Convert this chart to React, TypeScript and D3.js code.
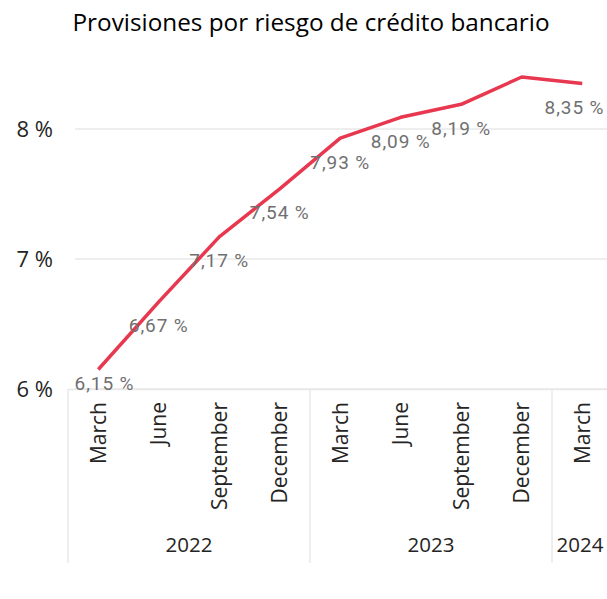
import React from "react";
import * as d3 from "d3";

const months = ["March", "June", "September", "December", "March", "June", "September", "December", "March"];
const years = ["2022", "2022", "2022", "2022", "2023", "2023", "2023", "2023", "2024"];
const values = [6.15, 6.67, 7.17, 7.54, 7.93, 8.09, 8.19, 8.40, 8.35];
const showLabel = [true, true, true, true, true, true, true, false, true];
const yTicks = [6, 7, 8];
const title = "Provisiones por riesgo de crédito bancario";

const W = 607;
const H = 599;

export default function App() {
  const idx = values.map((_, i) => String(i));
  const x = d3.scaleBand<string>().domain(idx).range([68, 68 + 60.5 * values.length]).padding(0);
  const y = d3.scaleLinear().domain([6, 8]).range([389, 129]);
  const cx = (i: number) => (x(String(i)) as number) + x.bandwidth() / 2;

  const line = d3
    .line<number>()
    .x((_, i) => cx(i))
    .y((d) => y(d));

  const yearGroups: { year: string; start: number; end: number }[] = [];
  years.forEach((yr, i) => {
    const last = yearGroups[yearGroups.length - 1];
    if (last && last.year === yr) last.end = i;
    else yearGroups.push({ year: yr, start: i, end: i });
  });

  const fmt = (v: number) => v.toFixed(2).replace(".", ",") + " %";
  const axisFont = "'Segoe UI', 'Open Sans', sans-serif";

  return (
    <svg width={W} height={H} style={{ position: "absolute", left: 0, top: 0 }}>
      <rect width={W} height={H} fill="#fff" />
      <text x={311} y={31} textAnchor="middle" fontFamily={axisFont} fontSize={24.3} fill="#000">
        {title}
      </text>
      {yTicks.map((t) => (
        <g key={t}>
          <line x1={75} x2={W} y1={y(t)} y2={y(t)} stroke="#e8e8e8" strokeWidth={1.5} />
          <text x={53} y={y(t) + 8} textAnchor="end" fontFamily={axisFont} fontSize={22} fill="#252423">
            {t} %
          </text>
        </g>
      ))}
      <line x1={68} x2={W} y1={389.5} y2={389.5} stroke="#e8e8e8" strokeWidth={1.5} />
      {yearGroups.map((g) => {
        const x0 = x(String(g.start)) as number;
        const x1 = (x(String(g.end)) as number) + x.bandwidth();
        return (
          <g key={g.year}>
            <line x1={x0} x2={x0} y1={389} y2={563} stroke="#e8e8e8" strokeWidth={1.5} />
            <text
              x={Math.min((x0 + x1) / 2, 580)}
              y={552}
              textAnchor="middle"
              fontFamily={axisFont}
              fontSize={20.5}
              fill="#252423"
            >
              {g.year}
            </text>
          </g>
        );
      })}
      {months.map((m, i) => (
        <text
          key={i}
          transform={`translate(${cx(i) + 7.5},402) rotate(-90)`}
          textAnchor="end"
          fontFamily={axisFont}
          fontSize={21}
          fill="#252423"
        >
          {m}
        </text>
      ))}
      <path d={line(values) || ""} fill="none" stroke="#e8384f" strokeWidth={3.5} strokeLinejoin="round" />
      {values.map((v, i) => {
        if (!showLabel[i]) return null;
        const w = 59;
        let lx = cx(i);
        lx = Math.max(75 + w / 2, Math.min(604 - w / 2, lx));
        const ly = Math.min(y(v) + 24, 383);
        return (
          <text
            key={i}
            x={lx}
            y={ly + 6.5}
            textAnchor="middle"
            fontFamily="Roboto, sans-serif"
            fontSize={19}
            letterSpacing={0.9}
            fill="#707070"
          >
            {fmt(v)}
          </text>
        );
      })}
    </svg>
  );
}
